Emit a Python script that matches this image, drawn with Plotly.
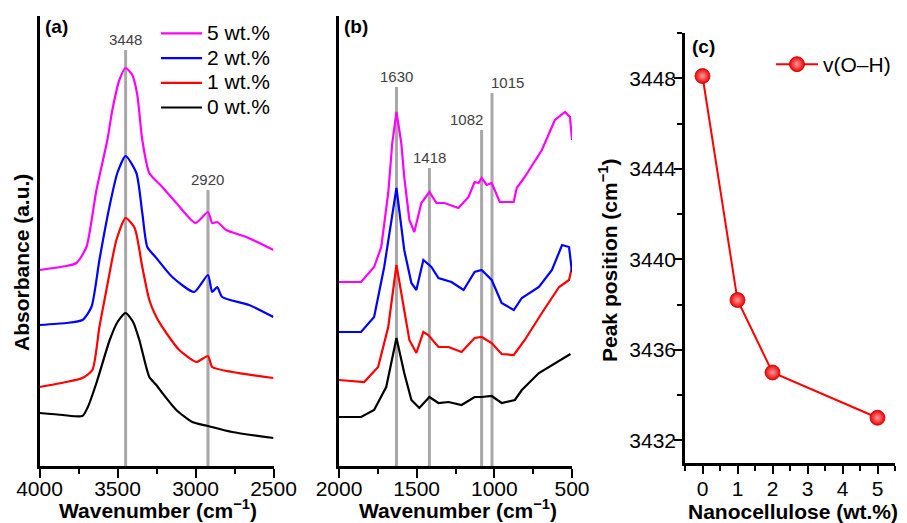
import plotly.graph_objects as go

W, H = 907, 523
FONT = "Liberation Sans, Arial, sans-serif"

# ---------------- data ----------------
series_labels = ["0 wt.%", "1 wt.%", "2 wt.%", "5 wt.%"]
series_colors = ["#000000", "#ff0000", "#0000ff", "#ff00ff"]

# Panel (a): 4000-2500 cm-1 (absorbance, arbitrary units incl. vertical offset)
wn_a_0 = [4000, 3850, 3725, 3690, 3635, 3550, 3500, 3448, 3400, 3360, 3296, 3251, 3213, 3123, 3021, 2920, 2765, 2500]
abs_a_0 = [53, 51, 50, 59, 83, 126, 144, 153, 144, 126, 89, 81, 73, 56, 44, 40, 34, 28]
wn_a_1 = [4000, 3829, 3725, 3661, 3616, 3571, 3507, 3448, 3390, 3341, 3296, 3251, 3187, 3104, 2995, 2920, 2893, 2765, 2500]
abs_a_1 = [79, 84, 88, 96, 139, 176, 226, 248, 238, 199, 166, 149, 133, 116, 104, 110, 99, 94, 88]
wn_a_2 = [4000, 3829, 3725, 3667, 3616, 3552, 3501, 3448, 3379, 3341, 3309, 3251, 3149, 3008, 2920, 2893, 2861, 2829, 2656, 2500]
abs_a_2 = [141, 143, 146, 159, 206, 259, 293, 310, 293, 253, 219, 208, 189, 174, 191, 174, 179, 169, 161, 149]
wn_a_5 = [4000, 3829, 3763, 3699, 3635, 3565, 3533, 3488, 3448, 3405, 3373, 3341, 3296, 3213, 3123, 3000, 2920, 2893, 2861, 2803, 2675, 2500]
abs_a_5 = [196, 200, 203, 219, 276, 326, 356, 386, 398, 391, 371, 326, 293, 279, 263, 243, 254, 243, 244, 236, 229, 216]

# Panel (b): 2000-500 cm-1
wn_b_0 = [2000, 1858, 1774, 1696, 1630, 1580, 1534, 1483, 1418, 1360, 1295, 1211, 1127, 1082, 1017, 953, 868, 823, 713, 610, 510]
abs_b_0 = [49, 49, 56, 79, 128, 93, 66, 58, 69, 63, 64, 61, 69, 69, 70, 63, 66, 76, 93, 103, 112]
wn_b_1 = [2000, 1838, 1748, 1683, 1630, 1585, 1547, 1502, 1457, 1425, 1360, 1295, 1211, 1127, 1082, 1017, 953, 875, 804, 694, 583, 519, 500]
abs_b_1 = [86, 84, 99, 139, 201, 159, 126, 113, 134, 131, 119, 119, 114, 128, 129, 123, 112, 111, 126, 153, 179, 186, 199]
wn_b_2 = [2000, 1858, 1774, 1709, 1630, 1580, 1534, 1502, 1457, 1405, 1360, 1276, 1198, 1127, 1082, 1017, 953, 875, 823, 713, 629, 564, 519, 500]
abs_b_2 = [134, 134, 149, 199, 278, 216, 183, 176, 206, 199, 188, 184, 176, 194, 196, 186, 163, 156, 168, 179, 196, 221, 219, 194]
wn_b_5 = [2000, 1858, 1774, 1728, 1683, 1657, 1630, 1599, 1580, 1547, 1515, 1470, 1418, 1373, 1321, 1231, 1166, 1127, 1101, 1082, 1049, 1017, 965, 875, 856, 804, 694, 610, 545, 513, 500]
abs_b_5 = [184, 184, 199, 219, 273, 323, 354, 323, 289, 246, 234, 263, 274, 263, 263, 258, 269, 284, 283, 288, 281, 283, 264, 264, 278, 289, 316, 346, 354, 349, 326]

# Peak markers
peaks_a = [3448, 2920]
peak_tops_a = [416, 276]
peaks_b = [1630, 1418, 1082, 1015]
peak_tops_b = [379, 298, 336, 373]
peak_label_anchor_b = ["center", "center", "right", "left"]

# Panel (c)
nanocellulose_wt = [0, 1, 2, 5]
oh_peak_position = [3448.1, 3438.2, 3435.0, 3433.0]

wn_a = [wn_a_0, wn_a_1, wn_a_2, wn_a_5]
abs_a = [abs_a_0, abs_a_1, abs_a_2, abs_a_5]
wn_b = [wn_b_0, wn_b_1, wn_b_2, wn_b_5]
abs_b = [abs_b_0, abs_b_1, abs_b_2, abs_b_5]


def px(x):
    return x / W


def py(y):
    return 1 - y / H


fig = go.Figure()

PEAK_GRAY = "#a8a8a8"
for w, t in zip(peaks_a, peak_tops_a):
    fig.add_trace(go.Scatter(x=[w, w], y=[0, t], mode="lines", line=dict(color=PEAK_GRAY, width=3),
                             showlegend=False, hoverinfo="skip", xaxis="x", yaxis="y"))
for w, t in zip(peaks_b, peak_tops_b):
    fig.add_trace(go.Scatter(x=[w, w], y=[0, t], mode="lines", line=dict(color=PEAK_GRAY, width=3),
                             showlegend=False, hoverinfo="skip", xaxis="x2", yaxis="y2"))

for lab, col, xs, ys in zip(series_labels, series_colors, wn_a, abs_a):
    fig.add_trace(go.Scatter(x=xs, y=ys, mode="lines", name=f"<span style='font-size:21px'>{lab}</span>",
                             line=dict(color=col, width=2.2, shape="spline", smoothing=0.6),
                             xaxis="x", yaxis="y", legend="legend"))
for lab, col, xs, ys in zip(series_labels, series_colors, wn_b, abs_b):
    fig.add_trace(go.Scatter(x=xs, y=ys, mode="lines", name=lab, showlegend=False,
                             line=dict(color=col, width=2.2),
                             xaxis="x2", yaxis="y2"))

fig.add_trace(go.Scatter(x=nanocellulose_wt, y=oh_peak_position, mode="lines+markers", name="v(O–H)",
                         line=dict(color="#ff0000", width=2),
                         marker=dict(size=15, color="#ee0000", gradient=dict(type="radial", color="#ff9a9a"),
                                     line=dict(color="#c00000", width=0.8)),
                         xaxis="x3", yaxis="y3", legend="legend2"))

axis_common = dict(showline=True, linecolor="black", linewidth=2.5, showgrid=False, zeroline=False,
                   tickfont=dict(family=FONT, size=21, color="black"), ticks="outside",
                   tickcolor="black", tickwidth=2, automargin=False)

fig.update_layout(
    width=W, height=H, autosize=False,
    margin=dict(l=0, r=0, t=0, b=0, pad=0, autoexpand=False),
    paper_bgcolor="white", plot_bgcolor="white",
    font=dict(family=FONT, color="black"),
    xaxis=dict(domain=[px(39.5), px(273.5)], range=[4000, 2500], tickmode="linear", tick0=2500, dtick=500,
               ticklen=9, ticklabelstandoff=-7,
               minor=dict(dtick=250, tick0=2500, ticklen=5, tickwidth=2, ticks="outside", tickcolor="black"),
               anchor="y", **axis_common),
    yaxis=dict(domain=[py(466), py(16)], range=[0, 450], showline=True, linecolor="black", linewidth=2.5,
               showgrid=False, zeroline=False, showticklabels=False, ticks="", anchor="x", automargin=False),
    xaxis2=dict(domain=[px(339), px(572)], range=[2000, 500], tickmode="linear", tick0=500, dtick=500,
                ticklen=9, ticklabelstandoff=-7,
                minor=dict(dtick=250, tick0=500, ticklen=5, tickwidth=2, ticks="outside", tickcolor="black"),
                anchor="y2", **axis_common),
    yaxis2=dict(domain=[py(466), py(16)], range=[0, 450], showline=True, linecolor="black", linewidth=2.5,
                showgrid=False, zeroline=False, showticklabels=False, ticks="", anchor="x2", automargin=False),
    xaxis3=dict(domain=[px(685), px(895)], range=[-0.5, 5.5], tickmode="linear", tick0=0, dtick=1,
                ticklen=8, ticklabelstandoff=-3,
                minor=dict(dtick=0.5, tick0=0, ticklen=5, tickwidth=2, ticks="outside", tickcolor="black"),
                anchor="y3", **axis_common),
    yaxis3=dict(domain=[py(463), py(33)], range=[3431, 3450], tickmode="linear", tick0=3432, dtick=4,
                ticklen=8, ticklabelstandoff=-6,
                minor=dict(dtick=2, tick0=3432, ticklen=5, tickwidth=2, ticks="outside", tickcolor="black"),
                anchor="x3", **axis_common),
    legend=dict(x=px(156), y=py(16), xanchor="left", yanchor="top", traceorder="reversed",
                font=dict(family=FONT, size=16.7, color="black"), bgcolor="rgba(0,0,0,0)", itemwidth=41),
    legend2=dict(x=px(771), y=py(44), xanchor="left", yanchor="top", itemwidth=42,
                 font=dict(family=FONT, size=21, color="black"), bgcolor="rgba(0,0,0,0)"),
)

ann = []
# panel labels
for txt, x, y in [("(a)", 43, 27), ("(b)", 342, 27), ("(c)", 690, 46)]:
    ann.append(dict(text=f"<b>{txt}</b>", x=px(x), y=py(y), xref="paper", yref="paper", xanchor="left",
                    yanchor="middle", showarrow=False, font=dict(family=FONT, size=19, color="black")))
# peak labels
for w, t in zip(peaks_a, peak_tops_a):
    ann.append(dict(text=str(w), x=w, y=t, xref="x", yref="y", xanchor="center", yanchor="bottom",
                    showarrow=False, font=dict(family=FONT, size=15, color="#404040")))
for w, t, a in zip(peaks_b, peak_tops_b, peak_label_anchor_b):
    xs = {"center": 0, "right": 3, "left": -3}[a]
    ann.append(dict(text=str(w), x=w, y=t, xref="x2", yref="y2", xanchor=a, yanchor="bottom", xshift=xs,
                    showarrow=False, font=dict(family=FONT, size=15, color="#404040")))
# axis titles
title_font = dict(family=FONT, size=21, color="black")
ann.append(dict(text="<b>Wavenumber (cm<sup>−1</sup>)</b>", x=px(158), y=py(509), xref="paper", yref="paper",
                xanchor="center", yanchor="middle", showarrow=False, font=title_font))
ann.append(dict(text="<b>Wavenumber (cm<sup>−1</sup>)</b>", x=px(458), y=py(509), xref="paper", yref="paper",
                xanchor="center", yanchor="middle", showarrow=False, font=title_font))
ann.append(dict(text="<b>Absorbance (a.u.)</b>", x=px(21), y=py(263), xref="paper", yref="paper",
                xanchor="center", yanchor="middle", textangle=-90, showarrow=False, font=title_font))
ann.append(dict(text="<b>Peak position (cm<sup>−1</sup>)</b>", x=px(608), y=py(261), xref="paper", yref="paper",
                xanchor="center", yanchor="middle", textangle=-90, showarrow=False, font=title_font))
ann.append(dict(text="<b>Nanocellulose (wt.%)</b>", x=px(793), y=py(511), xref="paper", yref="paper",
                xanchor="center", yanchor="middle", showarrow=False, font=title_font))
fig.update_layout(annotations=ann)

fig.write_html("out.html", config={"displayModeBar": False},
               post_script="document.body.style.margin='0px';")
